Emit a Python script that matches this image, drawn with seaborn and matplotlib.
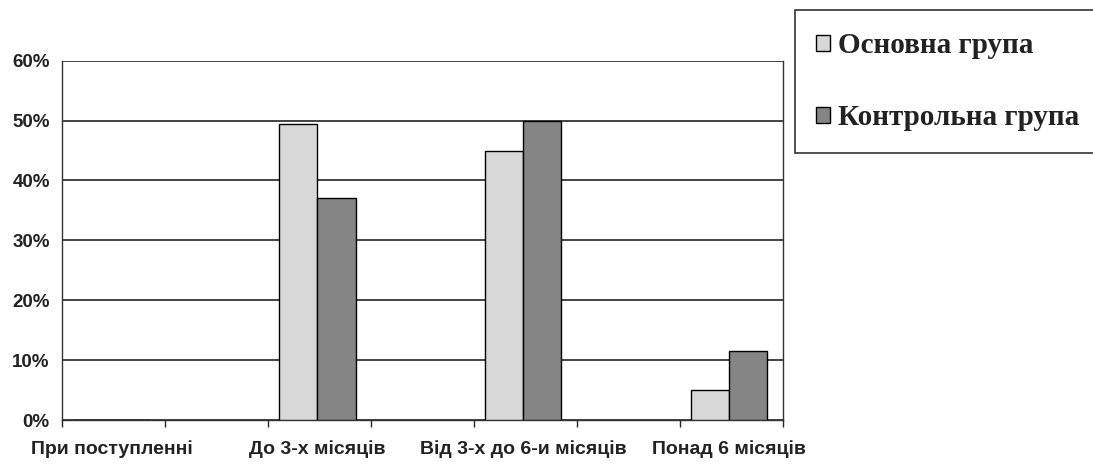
import matplotlib
matplotlib.use("Agg")
import matplotlib.pyplot as plt
import seaborn as sns
import pandas as pd
import numpy as np
from matplotlib.ticker import PercentFormatter, FixedLocator

# Data
categories = ["При поступленні", "До 3-х місяців", "Від 3-х до 6-и місяців", "Понад 6 місяців"]
groups = ["Основна група", "Контрольна група"]
main_group = [0, 49.5, 45, 5]
control_group = [0, 37, 50, 11.5]
colors = ["#d8d8d8", "#858585"]

df = pd.DataFrame({
    "category": categories * 2,
    "group": [groups[0]] * 4 + [groups[1]] * 4,
    "value": main_group + control_group,
})

sns.set_style("white")
plt.rcParams["font.family"] = ["Liberation Sans", "DejaVu Sans"]

fig, ax = plt.subplots(figsize=(10.93, 4.66), dpi=100)
fig.subplots_adjust(left=0.057, right=0.716, top=0.87, bottom=0.098)

sns.barplot(
    data=df, x="category", y="value", hue="group",
    palette=colors, width=0.37, edgecolor="black", linewidth=1.0,
    ax=ax, legend=True, zorder=3,
)

ax.set_ylim(0, 60)
ax.set_xlim(-0.24, 3.26)
ax.set_yticks(range(0, 61, 10))
ax.yaxis.set_major_formatter(PercentFormatter(decimals=0))
ax.yaxis.grid(True, color="#222222", linewidth=1.2)
ax.set_axisbelow(True)
ax.set_xlabel("")
ax.set_ylabel("")

ax.spines["top"].set_visible(False)
for side in ["left", "right", "bottom"]:
    ax.spines[side].set_color("#333333")
    ax.spines[side].set_linewidth(1.0)

ax.tick_params(axis="x", which="major", length=0, labelsize=14, pad=14)
ax.tick_params(axis="y", which="major", length=6, width=1, direction="out", labelsize=13.5, pad=3)
ax.xaxis.set_minor_locator(FixedLocator(np.linspace(-0.24, 3.26, 8)))
ax.tick_params(axis="x", which="minor", length=5, width=1, direction="out", bottom=True)
for lbl in ax.get_xticklabels() + ax.get_yticklabels():
    lbl.set_fontweight("bold")
    lbl.set_color("#222222")

handles, labels = ax.get_legend_handles_labels()
ax.legend_.remove()
leg = fig.legend(
    handles, labels, loc="upper left", bbox_to_anchor=(0.727, 0.978),
    frameon=True, fancybox=False, edgecolor="black", handlelength=0.45,
    handleheight=0.45, handletextpad=0.3, labelspacing=1.55, borderpad=0.75,
    borderaxespad=0.0,
    prop={"family": "Liberation Serif", "weight": "bold", "size": 21},
)
leg.get_frame().set_linewidth(1.2)
for t in leg.get_texts():
    t.set_color("#222222")

fig.savefig("out.png", dpi=100)
